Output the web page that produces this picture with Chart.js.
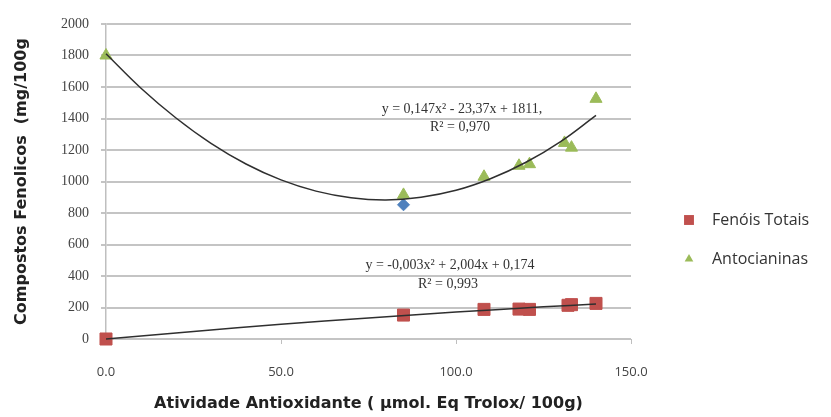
<!DOCTYPE html>
<html lang="pt">
<head>
  <meta charset="UTF-8">
  <title>Compostos Fenólicos x Atividade Antioxidante</title>
  <script src="https://cdn.jsdelivr.net/npm/chart.js"></script>
  <style>
    html, body { margin: 0; padding: 0; background: #fff; }
    #wrap { width: 831px; height: 417px; }
  </style>
</head>
<body>
  <div id="wrap"><canvas id="grafico"></canvas></div>

  <script>
    const fenoisX = [0, 85, 108, 118, 121, 132, 133, 140];
    const fenoisY = [0, 152, 188, 190, 188, 214, 218, 226];
    const antoX = [0, 85, 108, 118, 121, 131, 133, 140];
    const antoY = [1800, 915, 1030, 1100, 1110, 1245, 1215, 1525];
    const extraX = [85];
    const extraY = [852];

    // linhas de tendência
    const tendAntoX = [0, 10, 20, 30, 40, 50, 60, 70, 80, 90, 100, 110, 120, 130, 140];
    const tendAntoY = [1811, 1592, 1403, 1242, 1111, 1010, 939, 897, 883, 900, 944, 1019, 1122, 1255, 1420];
    const tendFenX = [0, 25, 50, 75, 100, 125, 140];
    const tendFenY = [0, 48, 93, 134, 171, 204, 222];

    const eqAnto = ['y = 0,147x² - 23,37x + 1811,', 'R² = 0,970'];
    const eqFen = ['y = -0,003x² + 2,004x + 0,174', 'R² = 0,993'];
    const legendas = ['Fenóis Totais', 'Antocianinas'];

    const pares = (xs, ys) => xs.map((x, i) => ({ x, y: ys[i] }));

    const textos = {
      id: 'textos',
      afterDraw(chart) {
        const ctx = chart.ctx;
        ctx.save();
        ctx.fillStyle = '#333';
        ctx.textAlign = 'center';
        ctx.textBaseline = 'middle';
        ctx.font = '14px "Liberation Serif", serif';
        ctx.fillText(eqAnto[0], 462, 109);
        ctx.fillText(eqAnto[1], 460, 127);
        ctx.fillText(eqFen[0], 450, 265);
        ctx.fillText(eqFen[1], 448, 284);

        // legenda
        ctx.textAlign = 'left';
        ctx.font = '16px "Open Sans", sans-serif';
        const estilos = [
          { style: 'rect', radius: 7, color: '#c0504d' },
          { style: 'triangle', radius: 5, color: '#9bbb59' }
        ];
        legendas.forEach((txt, i) => {
          const y = 220 + i * 39;
          ctx.fillStyle = estilos[i].color;
          ctx.strokeStyle = estilos[i].color;
          Chart.helpers.drawPoint(ctx, { pointStyle: estilos[i].style, radius: estilos[i].radius, rotation: 0, borderWidth: 0 }, 689, y);
          ctx.fillStyle = '#333';
          ctx.fillText(txt, 712, y);
        });
        ctx.restore();
      }
    };

    new Chart(document.getElementById('grafico'), {
      type: 'scatter',
      data: {
        datasets: [
          { label: 'tend1', data: pares(tendAntoX, tendAntoY), showLine: true, borderColor: '#2f2f2f', borderWidth: 1.5, pointRadius: 0, tension: 0.4 },
          { label: 'tend2', data: pares(tendFenX, tendFenY), showLine: true, borderColor: '#2f2f2f', borderWidth: 1.5, pointRadius: 0, tension: 0.4 },
          { label: 'extra', data: pares(extraX, extraY), pointStyle: 'rectRot', pointRadius: 6, backgroundColor: '#4f81bd', borderColor: '#4f81bd' },
          { label: legendas[1], data: pares(antoX, antoY), pointStyle: 'triangle', pointRadius: 7, backgroundColor: '#9bbb59', borderColor: '#9bbb59' },
          { label: legendas[0], data: pares(fenoisX, fenoisY), pointStyle: 'rect', pointRadius: 8.5, backgroundColor: '#c0504d', borderColor: '#c0504d' }
        ]
      },
      options: {
        responsive: true,
        maintainAspectRatio: false,
        animation: false,
        clip: false,
        layout: { padding: { left: 12, top: 24, right: 200, bottom: 0 } },
        plugins: { legend: { display: false }, tooltip: { enabled: false } },
        scales: {
          x: {
            min: 0, max: 150,
            ticks: { stepSize: 50, padding: 20, color: '#444', font: { size: 13, family: 'Open Sans' }, callback: v => v.toFixed(1) },
            grid: { drawOnChartArea: false, tickLength: 5, color: '#bfbfbf' },
            border: { display: false },
            title: { display: true, text: 'Atividade Antioxidante ( µmol. Eq Trolox/ 100g)', color: '#222', font: { size: 16, weight: 'bold', family: 'DejaVu Sans' }, padding: { top: 4 } },
            afterFit: s => { s.height = 78; }
          },
          y: {
            min: 0, max: 2000,
            ticks: { stepSize: 200, padding: 12, color: '#444', font: { size: 14, family: 'Liberation Serif' }, callback: v => String(v) },
            grid: { color: '#c4c4c4', lineWidth: 2, tickLength: 5 },
            border: { color: '#bfbfbf', width: 1.5 },
            title: { display: true, text: 'Compostos Fenolicos  (mg/100g', color: '#222', font: { size: 16, weight: 'bold', family: 'DejaVu Sans' }, padding: { top: 0, bottom: 0 } },
            afterFit: s => { s.width = 94; }
          }
        }
      },
      plugins: [textos]
    });
  </script>
</body>
</html>
